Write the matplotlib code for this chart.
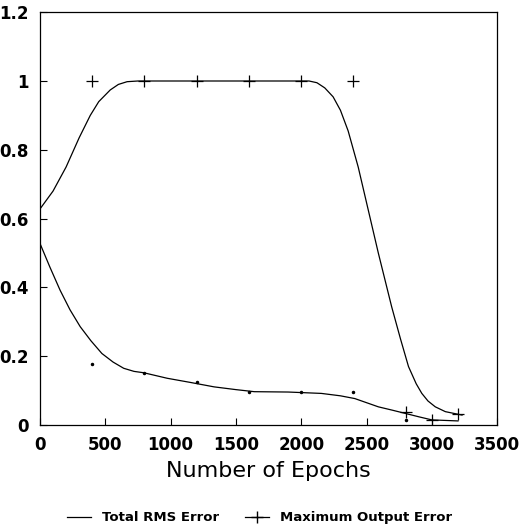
import matplotlib.pyplot as plt

# data points (markers)
rms_epochs = [400, 800, 1200, 1600, 2000, 2400, 2800]
rms_error = [0.177, 0.152, 0.126, 0.096, 0.097, 0.097, 0.015]

max_epochs = [400, 800, 1200, 1600, 2000, 2400, 2800, 3000, 3200]
max_error = [1.0, 1.0, 1.0, 1.0, 1.0, 1.0, 0.039, 0.015, 0.033]

# fitted curves
rms_curve_x = [0, 75, 154, 230, 308, 390, 474, 560, 641, 720, 795, 974, 1150, 1333, 1500, 1641,
               1900, 2154, 2300, 2410, 2500, 2590, 2700, 2795, 2900, 3000, 3200]
rms_curve_y = [0.528, 0.46, 0.392, 0.335, 0.286, 0.245, 0.208, 0.183, 0.165, 0.156, 0.152, 0.136,
               0.124, 0.111, 0.103, 0.097, 0.096, 0.092, 0.085, 0.077, 0.065, 0.053, 0.043, 0.034,
               0.024, 0.015, 0.012]

max_curve_x = [0, 100, 200, 300, 385, 450, 538, 600, 667, 750, 1500, 2060, 2120, 2180, 2244, 2300,
               2359, 2436, 2513, 2590, 2692, 2760, 2821, 2880, 2923, 2970, 3026, 3103, 3231]
max_curve_y = [0.628, 0.68, 0.75, 0.835, 0.9, 0.94, 0.974, 0.99, 0.998, 1.0, 1.0, 1.0, 0.995, 0.98,
               0.954, 0.915, 0.855, 0.75, 0.625, 0.50, 0.344, 0.25, 0.17, 0.12, 0.092, 0.07, 0.053,
               0.039, 0.029]

fig = plt.figure(figsize=(5.19, 5.30), dpi=100)
ax = fig.add_axes([0.077, 0.198, 0.881, 0.779])

ax.plot(rms_curve_x, rms_curve_y, color='black', lw=0.9)
ax.plot(max_curve_x, max_curve_y, color='black', lw=0.9)
ax.plot(rms_epochs, rms_error, 'k.', ms=3)
ax.plot(max_epochs, max_error, 'k+', ms=8, mew=0.9)

ax.set_xlim(0, 3500)
ax.set_ylim(0, 1.2)
ax.set_xticks([0, 500, 1000, 1500, 2000, 2500, 3000, 3500])
ax.set_yticks([0, 0.2, 0.4, 0.6, 0.8, 1.0, 1.2])
ax.set_yticklabels(['0', '0.2', '0.4', '0.6', '0.8', '1', '1.2'])
ax.tick_params(direction='in', length=5, width=0.8, labelsize=12, pad=8)
for lab in ax.get_xticklabels() + ax.get_yticklabels():
    lab.set_fontweight('bold')
for s in ax.spines.values():
    s.set_linewidth(0.9)

ax.set_xlabel('Number of Epochs', fontsize=16, labelpad=5)

h1, = ax.plot([], [], color='black', lw=0.9)
h2, = ax.plot([], [], color='black', lw=0.9, marker='+', ms=8)
fig.legend([h1, h2], ['Total RMS Error', 'Maximum Output Error'], loc='lower center',
           bbox_to_anchor=(0.5, -0.012), ncol=2, frameon=False, prop={'weight': 'bold', 'size': 9.5},
           handlelength=1.8, columnspacing=2.0)

fig.savefig('out.png', dpi=100)
